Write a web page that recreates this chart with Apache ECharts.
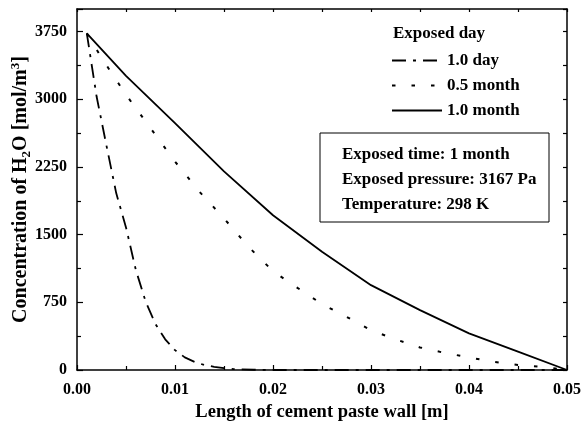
<!DOCTYPE html>
<html>
<head>
<meta charset="utf-8">
<script src="https://cdn.jsdelivr.net/npm/echarts@6/dist/echarts.min.js"></script>
<style>html,body{margin:0;padding:0;background:#fff;}#c{width:582px;height:425px;}</style>
</head>
<body>
<div id="c"></div>
<script>
// ---- data ----
const seriesNames = ['1.0 day', '0.5 month', '1.0 month'];
const xDay = [0.001,0.002,0.003,0.004,0.005,0.006,0.007,0.008,0.009,0.010,0.011,0.012,0.013,0.014,0.015,0.016,0.018,0.020,0.030,0.040,0.050];
const yDay = [3730,3030,2490,1960,1580,1110,760,510,340,220,140,90,55,35,20,10,3,0,0,0,0];
const xHalf = [0.001,0.0025,0.005,0.0075,0.010,0.0125,0.015,0.0175,0.020,0.0225,0.025,0.0275,0.030,0.0325,0.035,0.0375,0.040,0.0425,0.045,0.0475,0.050];
const yHalf = [3730,3460,3050,2680,2310,1975,1680,1365,1095,910,730,590,440,340,250,190,140,90,55,36,0];
const xMonth = [0.001,0.005,0.010,0.015,0.020,0.025,0.030,0.035,0.040,0.045,0.050];
const yMonth = [3730,3260,2735,2200,1715,1310,940,663,406,203,0];
const xTicks = [0.00,0.01,0.02,0.03,0.04,0.05];
const yTicks = [0,750,1500,2250,3000,3750];
const legendTitle = 'Exposed day';
const infoLines = ['Exposed time: 1 month', 'Exposed pressure: 3167 Pa', 'Temperature: 298 K'];

const FONT = 'Liberation Serif';
const pair = (xs, ys) => xs.map((x, i) => [x, ys[i]]);

const chart = echarts.init(document.getElementById('c'), null, {renderer: 'canvas'});
const axisCommon = {
  axisLine: {onZero: false, lineStyle: {color: '#000', width: 1.5}},
  splitLine: {show: false},
  minorSplitLine: {show: false}
};
const option = {
  animation: false,
  backgroundColor: '#fff',
  grid: {left: 77, right: 15, top: 9, bottom: 55, containLabel: false, outerBoundsMode: 'none'},
  xAxis: [{
    ...axisCommon,
    type: 'value', min: 0, max: 0.05, interval: 0.01,
    axisTick: {inside: true, length: 5, lineStyle: {color: '#000', width: 1.2}},
    minorTick: {show: true, splitNumber: 2, length: 4, lineStyle: {color: '#000', width: 1.2}},
    axisLabel: {color: '#000', fontFamily: FONT, fontWeight: 'bold', fontSize: 16, margin: 12,
      formatter: v => (xTicks.some(t => Math.abs(t - v) < 1e-9) ? v.toFixed(2) : '')},
    name: 'Length of cement paste wall [m]', nameLocation: 'middle', nameGap: 33,
    nameTextStyle: {color: '#000', fontFamily: FONT, fontWeight: 'bold', fontSize: 18.5}
  }, {
    ...axisCommon,
    type: 'value', min: 0, max: 0.05, interval: 0.01, position: 'top',
    axisTick: {inside: true, length: 3, lineStyle: {color: '#000', width: 1.2}},
    minorTick: {show: true, splitNumber: 2, length: 3, lineStyle: {color: '#000', width: 1.2}},
    axisLabel: {show: false}
  }],
  yAxis: [{
    ...axisCommon,
    type: 'value', min: 0, max: 4000, interval: 750,
    axisTick: {inside: true, length: 6, lineStyle: {color: '#000', width: 1.2}},
    minorTick: {show: true, splitNumber: 2, length: 4, lineStyle: {color: '#000', width: 1.2}},
    axisLabel: {color: '#000', fontFamily: FONT, fontWeight: 'bold', fontSize: 16, margin: 10, showMaxLabel: false,
      formatter: v => (yTicks.indexOf(v) >= 0 ? String(v) : '')},
    name: '{a|Concentration of H}{sub|2}{a|O [mol/m}{sup|3}{a|]}',
    nameLocation: 'middle', nameGap: 44, nameMoveOverlap: false,
    nameTextStyle: {
      color: '#000', fontFamily: FONT, fontWeight: 'bold', fontSize: 20,
      rich: {
        a: {fontFamily: FONT, fontWeight: 'bold', fontSize: 20, lineHeight: 24, color: '#000'},
        sub: {fontFamily: FONT, fontWeight: 'bold', fontSize: 13, lineHeight: 13, verticalAlign: 'bottom', color: '#000'},
        sup: {fontFamily: FONT, fontWeight: 'bold', fontSize: 13, lineHeight: 13, verticalAlign: 'top', color: '#000'}
      }
    }
  }, {
    ...axisCommon,
    type: 'value', min: 0, max: 4000, interval: 750, position: 'right',
    axisTick: {inside: true, length: 4, lineStyle: {color: '#000', width: 1.2}},
    minorTick: {show: true, splitNumber: 2, length: 4, lineStyle: {color: '#000', width: 1.2}},
    axisLabel: {show: false}
  }],
  legend: {
    orient: 'vertical', left: 386, top: 47, itemWidth: 50, itemHeight: 10, itemGap: 8,
    itemStyle: {opacity: 0},
    textStyle: {color: '#000', fontFamily: FONT, fontWeight: 'bold', fontSize: 17},
    data: seriesNames
  },
  series: [{
    name: seriesNames[0], type: 'line', symbol: 'none', data: pair(xDay, yDay),
    lineStyle: {color: '#000', width: 1.8, type: [14, 7, 3, 7]}, itemStyle: {color: '#000'}
  }, {
    name: seriesNames[1], type: 'line', symbol: 'none', data: pair(xHalf, yHalf),
    lineStyle: {color: '#000', width: 2, type: [3.5, 16]}, itemStyle: {color: '#000'}
  }, {
    name: seriesNames[2], type: 'line', symbol: 'none', data: pair(xMonth, yMonth),
    lineStyle: {color: '#000', width: 1.8, type: 'solid'}, itemStyle: {color: '#000'}
  }],
  graphic: [
    {type: 'text', left: 393, top: 25, style: {text: legendTitle, fill: '#000', font: 'bold 17px "' + FONT + '"'}},
    {type: 'rect', shape: {x: 320, y: 133, width: 229, height: 89}, style: {fill: '#fff', stroke: '#000', lineWidth: 1}},
    {type: 'text', left: 342, top: 146, style: {text: infoLines[0], fill: '#000', font: 'bold 17px "' + FONT + '"'}},
    {type: 'text', left: 342, top: 171, style: {text: infoLines[1], fill: '#000', font: 'bold 17px "' + FONT + '"'}},
    {type: 'text', left: 342, top: 196, style: {text: infoLines[2], fill: '#000', font: 'bold 17px "' + FONT + '"'}}
  ]
};
chart.setOption(option);
</script>
</body>
</html>
